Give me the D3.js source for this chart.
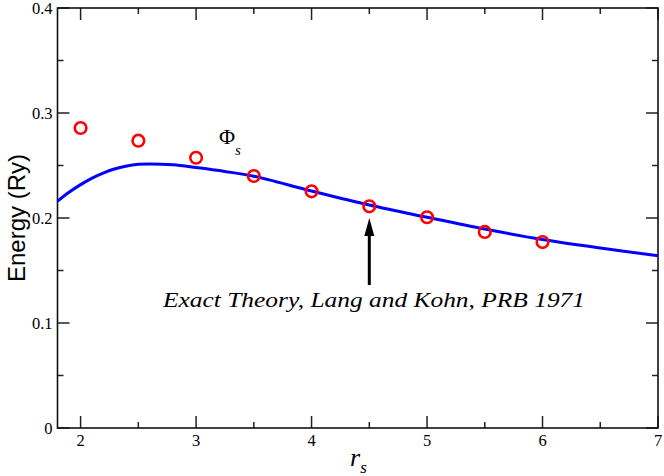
<!DOCTYPE html>
<meta charset="utf-8">
<script src="https://cdn.jsdelivr.net/npm/d3@7"></script>
<svg></svg>
<script>
    var vWidth = 664;
    var vHeight = 476;
    var vSerif = "'Liberation Serif'";

    // symbols (red circles)
    var rsPoints = [2, 2.5, 3, 3.5, 4, 4.5, 5, 5.5, 6];
    var phiValues = [0.2857, 0.2736, 0.2574, 0.2400, 0.2254, 0.2111, 0.2007, 0.1867, 0.1771];

    // exact theory curve (blue)
    var rsCurve = [1.8, 1.9, 2.0, 2.1, 2.2, 2.3, 2.4, 2.5, 2.6, 2.8, 3.0, 3.25, 3.5, 4.0, 4.5, 5.0, 5.5, 6.0, 6.5, 7.0];
    var exactValues = [0.216, 0.2245, 0.2318, 0.2380, 0.2430, 0.2469, 0.2496, 0.2511, 0.2515, 0.2506, 0.2480, 0.2443, 0.2398, 0.2257, 0.2123, 0.2007, 0.1895, 0.1795, 0.1714, 0.1641];

    var xMajor = [2, 3, 4, 5, 6, 7];
    var xMinor = [2.5, 3.5, 4.5, 5.5, 6.5];
    var yMajor = [0, 0.1, 0.2, 0.3, 0.4];
    var yMinor = [0.05, 0.15, 0.25, 0.35];

    d3.select('body').style('margin', '0px');
    var m = {left: 57.5, right: 6, top: 8, bottom: 48};
    var svg = d3.select('svg').attr('width', vWidth).attr('height', vHeight)
        .style('font-family', vSerif);

    var x = d3.scaleLinear().domain([1.8, 7]).range([m.left, vWidth - m.right]);
    var y = d3.scaleLinear().domain([0, 0.4]).range([vHeight - m.bottom, m.top]);

    var x0 = x.range()[0], x1 = x.range()[1];
    var y0 = y.range()[0], y1 = y.range()[1];

    // ticks on all four sides, pointing inward
    var tk = svg.append('g').attr('stroke', '#222').attr('stroke-width', 1.5);
    function vTicks(vals, len) {
        vals.forEach(function (v) {
            tk.append('line').attr('x1', x(v)).attr('x2', x(v)).attr('y1', y0).attr('y2', y0 - len);
            tk.append('line').attr('x1', x(v)).attr('x2', x(v)).attr('y1', y1).attr('y2', y1 + len);
        });
    }
    function hTicks(vals, len) {
        vals.forEach(function (v) {
            tk.append('line').attr('y1', y(v)).attr('y2', y(v)).attr('x1', x0).attr('x2', x0 + len);
            tk.append('line').attr('y1', y(v)).attr('y2', y(v)).attr('x1', x1).attr('x2', x1 - len);
        });
    }
    vTicks(xMajor, 12); vTicks(xMinor, 6);
    hTicks(yMajor, 12); hTicks(yMinor, 6);

    svg.append('rect').attr('x', x0).attr('y', y1).attr('width', x1 - x0).attr('height', y0 - y1)
        .attr('fill', 'none').attr('stroke', '#111').attr('stroke-width', 1.6);

    // tick labels
    svg.selectAll('.xl').data(xMajor).enter().append('text')
        .style('font-family', vSerif)
        .attr('x', function (d) { return x(d); }).attr('y', y0 + 18)
        .attr('text-anchor', 'middle').attr('font-size', 16.5).text(function (d) { return d; });
    svg.selectAll('.yl').data(yMajor).enter().append('text')
        .style('font-family', vSerif)
        .attr('x', x0 - 5).attr('y', function (d) { return y(d) + 6; })
        .attr('text-anchor', 'end').attr('font-size', 16.5).text(function (d) { return d; });

    // axis titles
    svg.append('text').style('font-family', "'Liberation Sans'")
        .attr('transform', 'translate(25,' + ((y0 + y1) / 2) + ') rotate(-90)')
        .attr('text-anchor', 'middle').attr('font-size', 24).text('Energy (Ry)');
    var xt = svg.append('text').style('font-family', vSerif)
        .attr('x', 350).attr('y', 466).attr('font-size', 26).style('font-style', 'italic');
    xt.append('tspan').text('r');
    xt.append('tspan').attr('dy', 7).attr('font-size', 17).text('s');

    // curve
    var line = d3.line()
        .x(function (d, i) { return x(rsCurve[i]); })
        .y(function (d) { return y(d); })
        .curve(d3.curveCatmullRom);
    svg.append('path').datum(exactValues).attr('d', line)
        .attr('fill', 'none').attr('stroke', '#0000ff').attr('stroke-width', 3);

    // symbols
    svg.selectAll('circle').data(phiValues).enter().append('circle')
        .attr('cx', function (d, i) { return x(rsPoints[i]); })
        .attr('cy', function (d) { return y(d); })
        .attr('r', 5.8).attr('fill', 'none').attr('stroke', '#ff0000').attr('stroke-width', 2.6);

    // Phi_s label
    var pt = svg.append('text').style('font-family', vSerif)
        .attr('x', 219).attr('y', 144).attr('font-size', 22);
    pt.append('tspan').text('\u03A6');
    pt.append('tspan').attr('dy', 11).attr('font-size', 15).style('font-style', 'italic').text('s');

    // arrow + annotation
    var ax = x(4.5);
    svg.append('line').attr('x1', ax).attr('x2', ax).attr('y1', 285).attr('y2', 232)
        .attr('stroke', 'black').attr('stroke-width', 3);
    svg.append('path').attr('d', 'M' + ax + ',218 L' + (ax - 5) + ',236 L' + (ax + 5) + ',236 Z')
        .attr('fill', 'black');
    svg.append('text').style('font-family', vSerif)
        .attr('x', 163).attr('y', 307)
        .attr('font-size', 22).style('font-style', 'italic')
        .attr('textLength', 422).attr('lengthAdjust', 'spacingAndGlyphs')
        .text('Exact Theory, Lang and Kohn, PRB 1971');
</script>
